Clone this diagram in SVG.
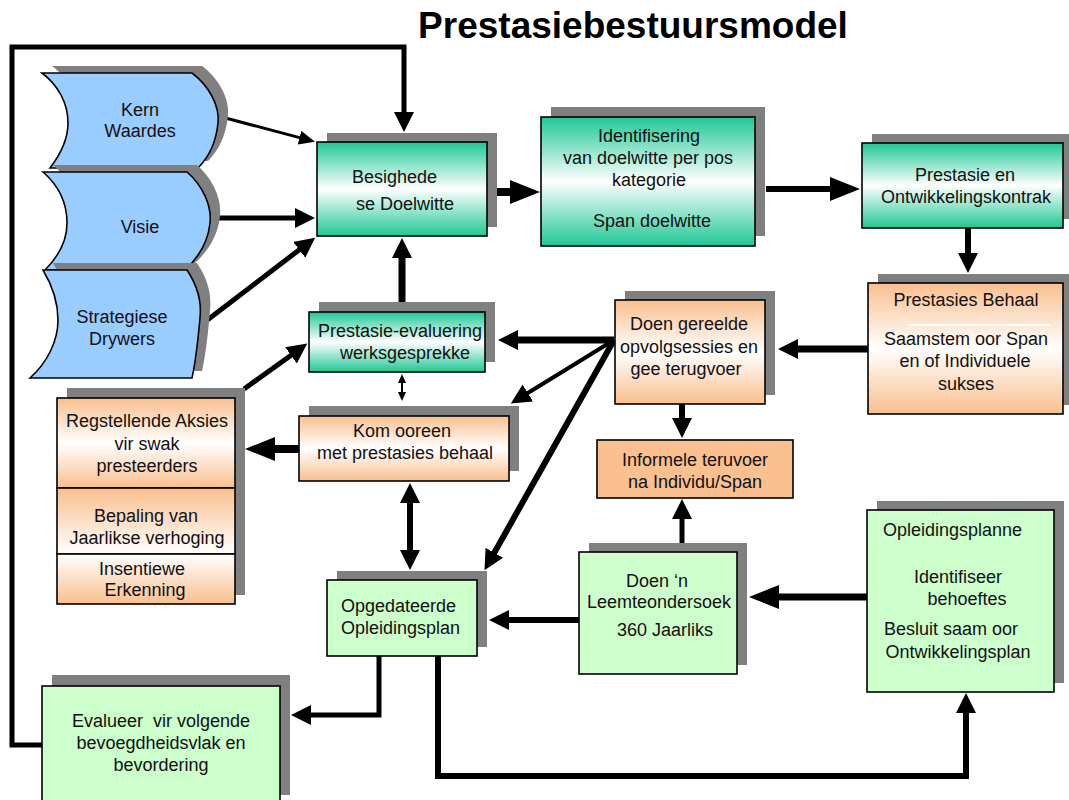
<svg xmlns="http://www.w3.org/2000/svg" width="1069" height="800" viewBox="0 0 1069 800">
<style>
text{font-family:"Liberation Sans",Arial,sans-serif;font-size:18px;fill:#111;}
.t{text-anchor:middle;}
.title{font-size:37px;font-weight:bold;fill:#000;}
.box{stroke:#000;stroke-width:1.6;}
.sh{fill:#808080;}
.wave{fill:#99CCFF;stroke:#000;stroke-width:1.6;}
.c{fill:none;stroke:#000;stroke-linejoin:miter;}
</style>
<defs>
<linearGradient id="teal" x1="0" y1="0" x2="0" y2="1">
<stop offset="0" stop-color="#1FC795"/><stop offset="0.5" stop-color="#FFFFFF"/><stop offset="1" stop-color="#1FC795"/>
</linearGradient>
<linearGradient id="peach" x1="0" y1="0" x2="0" y2="1">
<stop offset="0" stop-color="#F9BF8E"/><stop offset="0.5" stop-color="#FFFFFF"/><stop offset="1" stop-color="#F9BF8E"/>
</linearGradient>
<linearGradient id="peachDown" x1="0" y1="0" x2="0" y2="1">
<stop offset="0" stop-color="#F9BF8E"/><stop offset="1" stop-color="#FFFFFF"/>
</linearGradient>
<linearGradient id="peachUp" x1="0" y1="0" x2="0" y2="1">
<stop offset="0" stop-color="#FFFFFF"/><stop offset="1" stop-color="#F9BF8E"/>
</linearGradient>
<marker id="mA" markerUnits="userSpaceOnUse" markerWidth="32" markerHeight="26" refX="1" refY="12" orient="auto"><path d="M0,0 L30,12 L0,24 Z" fill="#000"/></marker>
<marker id="mB" markerUnits="userSpaceOnUse" markerWidth="22" markerHeight="22" refX="1" refY="10" orient="auto-start-reverse"><path d="M0,0 L20,10 L0,20 Z" fill="#000"/></marker>
<marker id="mC" markerUnits="userSpaceOnUse" markerWidth="12" markerHeight="10" refX="1" refY="4" orient="auto-start-reverse"><path d="M0,0 L9,4 L0,8 Z" fill="#000"/></marker>
<marker id="mD" markerUnits="userSpaceOnUse" markerWidth="18" markerHeight="16" refX="1" refY="7" orient="auto"><path d="M0,0 L16,7 L0,14 Z" fill="#000"/></marker>
</defs>

<text class="title t" x="633" y="38">Prestasiebestuursmodel</text>

<g id="connectors">
<path class="c" stroke-width="5" d="M42,745 H12 V47 H404 V113" marker-end="url(#mB)"/>
<path class="c" stroke-width="3" d="M218,116 L300.5,137.9" marker-end="url(#mD)"/>
<path class="c" stroke-width="5" d="M216,218 H296" marker-end="url(#mB)"/>
<path class="c" stroke-width="5" d="M206,321 L300,249.2" marker-end="url(#mB)"/>
<path class="c" stroke-width="8" d="M487,192 H511" marker-end="url(#mA)"/>
<path class="c" stroke-width="6" d="M766,189 H831" marker-end="url(#mA)"/>
<path class="c" stroke-width="6" d="M968,228 V254" marker-end="url(#mB)"/>
<path class="c" stroke-width="7" d="M868,349 H797" marker-end="url(#mB)"/>
<path class="c" stroke-width="7" d="M614,340 H517" marker-end="url(#mB)"/>
<path class="c" stroke-width="4" d="M614,340 L527,393.5" marker-end="url(#mB)"/>
<path class="c" stroke-width="6" d="M614,340 L493.8,553.6" marker-end="url(#mB)"/>
<path class="c" stroke-width="7" d="M402,302 V257" marker-end="url(#mB)"/>
<path class="c" stroke-width="2" d="M402,382 V393" marker-start="url(#mC)" marker-end="url(#mC)"/>
<path class="c" stroke-width="8" d="M299,449 H274" marker-end="url(#mA)"/>
<path class="c" stroke-width="5" d="M244,389 L291.8,354.7" marker-end="url(#mB)"/>
<path class="c" stroke-width="6" d="M410,502 V551" marker-start="url(#mB)" marker-end="url(#mB)"/>
<path class="c" stroke-width="6" d="M682,404 V419" marker-end="url(#mB)"/>
<path class="c" stroke-width="5" d="M682,545 V518" marker-end="url(#mB)"/>
<path class="c" stroke-width="7" d="M867,597 H778" marker-end="url(#mA)"/>
<path class="c" stroke-width="6" d="M579,620 H508" marker-end="url(#mB)"/>
<path class="c" stroke-width="5" d="M379,656 V715 H310" marker-end="url(#mB)"/>
<path class="c" stroke-width="6" d="M438,656 V776 H966 V712" marker-end="url(#mB)"/>
</g>

<g id="kern">
<path class="sh" transform="translate(10,-7)" d="M42,73 L192,73 C208,85 220,105 218,123 C216,143 208,158 198,168 L50,168 C60,155 68,140 68,123 C68,103 58,85 42,73 Z"/>
<path class="wave" d="M42,73 L192,73 C208,85 220,105 218,123 C216,143 208,158 198,168 L50,168 C60,155 68,140 68,123 C68,103 58,85 42,73 Z"/>
<text class="t" x="140" y="116">Kern</text>
<text class="t" x="140" y="137">Waardes</text>
</g>
<g id="visie">
<path class="sh" transform="translate(10,-7)" d="M43,172 L187,172 C202,185 212,205 210,223 C208,243 198,258 185,270 L45,270 C60,255 67,240 67,223 C67,203 58,185 43,172 Z"/>
<path class="wave" d="M43,172 L187,172 C202,185 212,205 210,223 C208,243 198,258 185,270 L45,270 C60,255 67,240 67,223 C67,203 58,185 43,172 Z"/>
<text class="t" x="140" y="233">Visie</text>
</g>
<g id="strategiese">
<path class="sh" transform="translate(10,-7)" d="M43,270 L187,270 C197,285 202,300 200,318 C198,340 196,360 192,378 L30,378 C48,362 58,340 58,320 C58,300 52,285 43,270 Z"/>
<path class="wave" d="M43,270 L187,270 C197,285 202,300 200,318 C198,340 196,360 192,378 L30,378 C48,362 58,340 58,320 C58,300 52,285 43,270 Z"/>
<text class="t" x="122" y="323">Strategiese</text>
<text class="t" x="122" y="345">Drywers</text>
</g>

<g id="besighede">
<rect class="sh" x="327" y="133" width="170" height="94"/>
<rect class="box" x="317" y="142" width="170" height="94" fill="url(#teal)"/>
<text x="352" y="183">Besighede</text>
<text x="356" y="210">se Doelwitte</text>
</g>
<g id="identifisering">
<rect class="sh" x="551" y="107" width="214" height="129"/>
<rect class="box" x="541" y="117" width="214" height="129" fill="url(#teal)"/>
<text class="t" x="649" y="142">Identifisering</text>
<text class="t" x="648" y="164">van doelwitte per pos</text>
<text class="t" x="649" y="186">kategorie</text>
<text class="t" x="652" y="227">Span doelwitte</text>
</g>
<g id="kontrak">
<rect class="sh" x="872" y="134" width="201" height="85"/>
<rect class="box" x="862" y="143" width="201" height="85" fill="url(#teal)"/>
<text class="t" x="965" y="181">Prestasie en</text>
<text class="t" x="966" y="203">Ontwikkelingskontrak</text>
</g>
<g id="behaal">
<rect class="sh" x="878" y="274" width="195" height="131"/>
<rect class="box" x="868" y="283" width="195" height="131" fill="url(#peach)"/>
<line x1="908" y1="325" x2="1050" y2="325" stroke="#FFFFFF" stroke-width="2"/>
<text class="t" x="966" y="306">Prestasies Behaal</text>
<text class="t" x="966" y="345">Saamstem oor Span</text>
<text class="t" x="965" y="367">en of Individuele</text>
<text class="t" x="966" y="390">sukses</text>
</g>
<g id="opvolg">
<rect class="sh" x="625" y="291" width="150" height="104"/>
<rect class="box" x="615" y="300" width="150" height="104" fill="url(#peach)"/>
<text class="t" x="689" y="330">Doen gereelde</text>
<text class="t" x="689" y="353">opvolgsessies en</text>
<text class="t" x="686" y="375">gee terugvoer</text>
</g>
<g id="informele">
<rect class="box" x="597" y="440" width="196" height="58" fill="#FAC090"/>
<text class="t" x="695" y="466">Informele teruvoer</text>
<text class="t" x="695" y="488">na Individu/Span</text>
</g>
<g id="leemte">
<rect class="sh" x="589" y="543" width="158" height="122"/>
<rect class="box" x="579" y="552" width="158" height="122" fill="#CCFFCC"/>
<text class="t" x="657" y="587">Doen ‘n</text>
<text class="t" x="659" y="608">Leemteondersoek</text>
<text class="t" x="665" y="636">360 Jaarliks</text>
</g>
<g id="opleidingsplanne">
<rect class="sh" x="877" y="501" width="187" height="182"/>
<rect class="box" x="867" y="510" width="187" height="182" fill="#CCFFCC"/>
<text x="883" y="536">Opleidingsplanne</text>
<text class="t" x="958" y="583">Identifiseer</text>
<text class="t" x="967" y="605">behoeftes</text>
<text class="t" x="951" y="635">Besluit saam oor</text>
<text class="t" x="958" y="658">Ontwikkelingsplan</text>
</g>
<g id="opgedateerde">
<rect class="sh" x="337" y="571" width="150" height="76"/>
<rect class="box" x="327" y="580" width="150" height="76" fill="#CCFFCC"/>
<text x="341" y="612">Opgedateerde</text>
<text x="341" y="634">Opleidingsplan</text>
</g>
<g id="evalueer">
<rect class="sh" x="52" y="675" width="238" height="120"/>
<rect class="box" x="42" y="686" width="238" height="120" fill="#CCFFCC"/>
<text class="t" x="161" y="727" xml:space="preserve">Evalueer  vir volgende</text>
<text class="t" x="161" y="749">bevoegdheidsvlak en</text>
<text class="t" x="161" y="771">bevordering</text>
</g>
<g id="evaluering">
<rect class="sh" x="319" y="302" width="176" height="60"/>
<rect class="box" x="309" y="312" width="176" height="60" fill="url(#teal)"/>
<text class="t" x="400" y="337">Prestasie-evaluering</text>
<text class="t" x="405" y="359">werksgesprekke</text>
</g>
<g id="kom">
<rect class="sh" x="309" y="406" width="210" height="65"/>
<rect class="box" x="299" y="416" width="210" height="65" fill="url(#peach)"/>
<text class="t" x="402" y="437">Kom ooreen</text>
<text class="t" x="405" y="459">met prestasies behaal</text>
</g>
<g id="regstellende">
<rect class="sh" x="67" y="388" width="178" height="207"/>
<rect class="box" x="57" y="398" width="178" height="90" fill="url(#peach)"/>
<rect class="box" x="57" y="488" width="178" height="66" fill="url(#peachDown)"/>
<rect class="box" x="57" y="554" width="178" height="50" fill="url(#peachUp)"/>
<text class="t" x="147" y="427">Regstellende Aksies</text>
<text class="t" x="147" y="450">vir swak</text>
<text class="t" x="147" y="472">presteerders</text>
<text class="t" x="146" y="522">Bepaling van</text>
<text class="t" x="147" y="544">Jaarlikse verhoging</text>
<text class="t" x="142" y="575">Insentiewe</text>
<text class="t" x="145" y="596">Erkenning</text>
</g>
</svg>
